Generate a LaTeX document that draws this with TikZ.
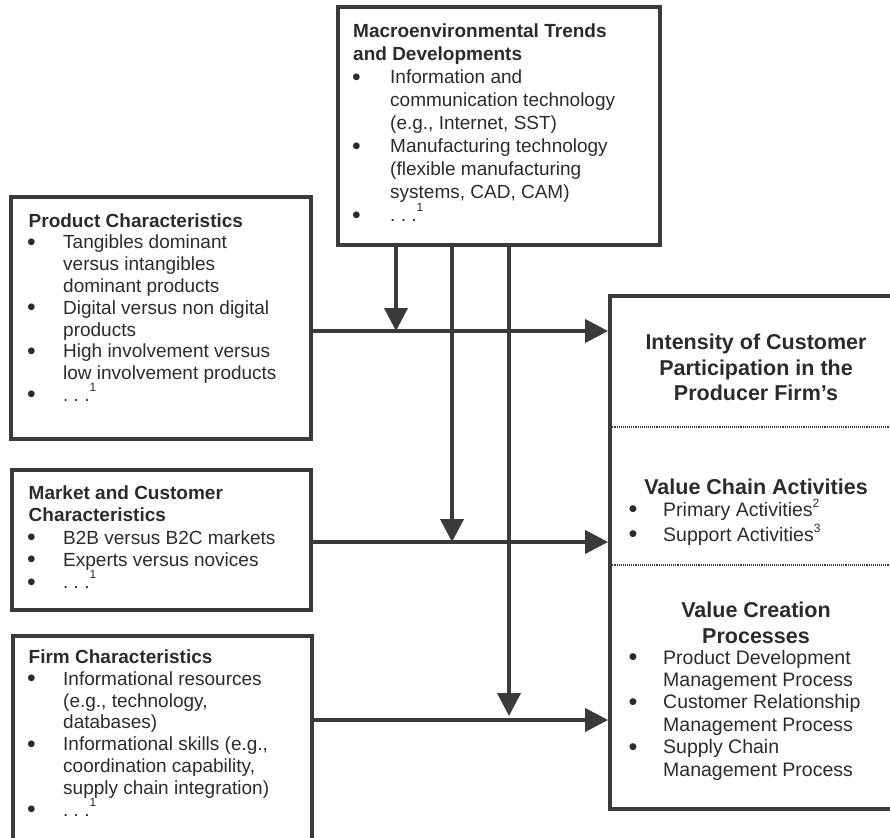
\documentclass[tikz,border=0pt]{standalone}
\usepackage{fontspec}
\setmainfont{Liberation Sans}
\usetikzlibrary{arrows.meta}
\definecolor{linec}{HTML}{3A3A3A}
\definecolor{textc}{HTML}{2B2B2B}
\newcommand{\bu}[1]{\makebox[#1][l]{\raisebox{-1.5pt}{\scalebox{1.3}{•}}}}
\newcommand{\fnm}[2]{\smash{\raisebox{#1}{\fontsize{12}{12}\selectfont #2}}}
\newcommand{\dts}{.\ .\ .}
\begin{document}
\begin{tikzpicture}[x=1pt,y=-1pt,
  box/.style={draw=linec, line width=3.8pt, rectangle, inner sep=0pt},
  conn/.style={draw=linec, line width=3.8pt, -{Triangle[length=23pt,width=23pt]}},
  divider/.style={draw=linec, line width=1.1pt, densely dotted},
  txt/.style={text=textc, inner sep=0pt, anchor=base west},
  ctxt/.style={text=textc, inner sep=0pt, anchor=base, font=\fontsize{21.5}{25.5}\selectfont\bfseries}
]
\useasboundingbox (0,0) rectangle (890,837);
\clip (0,0) rectangle (890,837);

% boxes
\node[box, minimum width=322pt, minimum height=238pt] (macro) at (499,126) {};
\node[box, minimum width=300pt, minimum height=242pt] (prod) at (161,318) {};
\node[box, minimum width=299pt, minimum height=140pt] (mkt) at (161.5,540) {};
\node[box, minimum width=299pt, minimum height=224pt] (firm) at (162.5,748) {};
\node[box, minimum width=292pt, minimum height=513pt] (ipart) at (756,552.5) {};

% dividers in the right box
\coordinate (d1) at (750,427);
\coordinate (d2) at (750,565);
\draw[divider] (ipart.west |- d1) -- (ipart.east |- d1);
\draw[divider] (ipart.west |- d2) -- (ipart.east |- d2);

% junctions
\coordinate (j1) at (396,331);
\coordinate (j2) at (452,542);
\coordinate (j3) at (509,720);

% connectors
\draw[conn] (prod.east |- j1) -- (ipart.west |- j1);
\draw[conn] (mkt.east |- j2) -- (ipart.west |- j2);
\draw[conn] (firm.east |- j3) -- (ipart.west |- j3);
\draw[conn] (macro.south -| j1) -- (j1);
\draw[conn] (macro.south -| j2) -- (j2);
\draw[conn, shorten >=4pt] (macro.south -| j3) -- (j3);

% texts
\node[txt, font=\fontsize{19}{23}\selectfont] (macrotxt) at (352,38) {\begin{tabular}[t]{@{}l@{}l@{}}
\multicolumn{2}{@{\hspace{1pt}}l@{}}{\bfseries Macroenvironmental Trends}\\
\multicolumn{2}{@{\hspace{1pt}}l@{}}{\bfseries and Developments}\\
\bu{38pt} & Information and\\
 & communication technology\\
 & (e.g., Internet, SST)\\
\bu{38pt} & Manufacturing technology\\
 & (flexible manufacturing\\
 & systems, CAD, CAM)\\
\bu{38pt} & \dts\fnm{10pt}{1}
\end{tabular}};

\node[txt, font=\fontsize{19}{21.8}\selectfont] (prodtxt) at (27,227) {\begin{tabular}[t]{@{}l@{}l@{}}
\multicolumn{2}{@{\hspace{1.5pt}}l@{}}{\bfseries Product Characteristics}\\
\bu{36pt} & Tangibles dominant\\
 & versus intangibles\\
 & dominant products\\
\bu{36pt} & Digital versus non digital\\
 & products\\
\bu{36pt} & High involvement versus\\
 & low involvement products\\
\bu{36pt} & \dts\fnm{10pt}{1}
\end{tabular}};

\node[txt, font=\fontsize{19}{22.3}\selectfont] (mkttxt) at (27,499.5) {\begin{tabular}[t]{@{}l@{}l@{}}
\multicolumn{2}{@{\hspace{1.5pt}}l@{}}{\bfseries Market and Customer}\\
\multicolumn{2}{@{\hspace{1.5pt}}l@{}}{\bfseries Characteristics}\\
\bu{36pt} & B2B versus B2C markets\\
\bu{36pt} & Experts versus novices\\
\bu{36pt} & \dts\fnm{10pt}{1}
\end{tabular}};

\node[txt, font=\fontsize{19}{21.8}\selectfont] (firmtxt) at (27,663.5) {\begin{tabular}[t]{@{}l@{}l@{}}
\multicolumn{2}{@{\hspace{1.5pt}}l@{}}{\bfseries Firm Characteristics}\\
\bu{36pt} & Informational resources\\
 & (e.g., technology,\\
 & databases)\\
\bu{36pt} & Informational skills (e.g.,\\
 & coordination capability,\\
 & supply chain integration)\\
\bu{36pt} & \dts\fnm{10pt}{1}
\end{tabular}};

\node[ctxt] (iparthead) at (756,349.5) {\begin{tabular}[t]{@{}c@{}}
Intensity of Customer\\
Participation in the\\
Producer Firm's
\end{tabular}};

\node[ctxt] (vchead) at (756,494.5) {Value Chain Activities};

\node[txt, font=\fontsize{19.5}{25}\selectfont] (vclist) at (628.5,516) {\begin{tabular}[t]{@{}l@{}l@{}}
\bu{34.5pt} & Primary Activities\fnm{9pt}{2}\\
\bu{34.5pt} & Support Activities\fnm{9pt}{3}
\end{tabular}};

\node[ctxt] (vcphead) at (756,617.5) {\begin{tabular}[t]{@{}c@{}}
Value Creation\\
Processes
\end{tabular}};

\node[txt, font=\fontsize{19.5}{22.4}\selectfont] (vcplist) at (628.5,664) {\begin{tabular}[t]{@{}l@{}l@{}}
\bu{34.5pt} & Product Development\\
 & Management Process\\
\bu{34.5pt} & Customer Relationship\\
 & Management Process\\
\bu{34.5pt} & Supply Chain\\
 & Management Process
\end{tabular}};
\end{tikzpicture}
\end{document}
